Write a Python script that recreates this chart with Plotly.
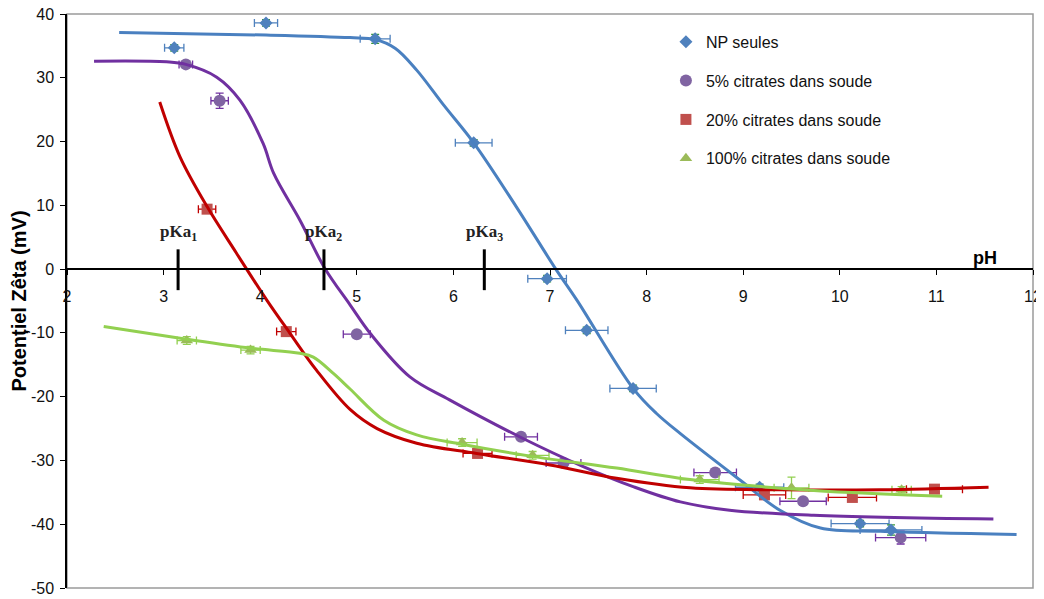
import plotly.graph_objects as go

# ---- axis ticks ----
x_ticks = list(range(2, 13))
y_ticks = [40, 30, 20, 10, 0, -10, -20, -30, -40, -50]
y_tick_labels = ["40", "30", "20", "10", "0", "-10", "-20", "-30", "-40", "-50"]

# ---- measured points ----
np_x = [3.11, 4.06, 5.19, 6.21, 6.97, 7.38, 7.86, 9.17, 10.21, 10.53]
np_y = [34.7, 38.6, 36.1, 19.8, -1.5, -9.6, -18.7, -34.2, -39.9, -40.9]
np_ex = [0.10, 0.12, 0.155, 0.19, 0.20, 0.22, 0.24, 0.25, 0.30, 0.32]
np_ey = [0.5, 0.5, 0.7, 0.5, 0.5, 0.5, 0.5, 0.5, 0.5, 0.8]

c5_x = [3.23, 3.58, 5.00, 6.70, 7.14, 8.71, 9.62, 10.63]
c5_y = [32.1, 26.4, -10.2, -26.3, -30.4, -31.9, -36.4, -42.1]
c5_ex = [0.07, 0.09, 0.14, 0.17, 0.18, 0.22, 0.24, 0.26]
c5_ey = [0.4, 1.2, 0.4, 0.5, 0.5, 0.5, 0.5, 1.0]

c20_x = [3.45, 4.27, 6.25, 9.22, 10.13, 10.98]
c20_y = [9.4, -9.8, -28.9, -35.4, -35.8, -34.5]
c20_ex = [0.09, 0.10, 0.15, 0.22, 0.25, 0.29]
c20_ey = [0.5, 0.5, 0.5, 0.5, 0.6, 0.5]

c100_x = [3.24, 3.90, 6.09, 6.82, 8.55, 9.50, 10.64]
c100_y = [-11.2, -12.7, -27.2, -29.2, -33.0, -34.3, -34.6]
c100_ex = [0.10, 0.10, 0.155, 0.17, 0.20, 0.18, 0.10]
c100_ey = [0.6, 0.6, 0.6, 0.6, 0.6, 1.7, 0.5]

# ---- trend curves ----
np_cx = [2.54, 4.06, 4.93, 5.19, 5.40, 5.62, 5.90, 6.21, 6.65, 7.06, 7.28, 7.86, 8.10, 8.35, 8.97, 9.38, 9.80, 10.42, 11.83]
np_cy = [37.1, 36.7, 36.3, 36.0, 34.6, 31.2, 25.7, 19.8, 9.8, 0.0, -4.9, -18.7, -22.6, -25.8, -33.1, -37.8, -40.6, -41.1, -41.6]

c5_cx = [2.28, 3.03, 3.23, 3.55, 3.79, 4.03, 4.14, 4.41, 4.67, 4.93, 5.14, 5.55, 5.96, 6.70, 7.35, 7.86, 8.35, 8.86, 9.73, 11.59]
c5_cy = [32.6, 32.5, 32.1, 30.1, 26.5, 19.7, 15.0, 7.7, 0.1, -5.6, -10.1, -16.9, -20.5, -26.4, -31.0, -34.1, -36.5, -37.8, -38.6, -39.2]

c20_cx = [2.96, 3.17, 3.45, 3.75, 4.07, 4.31, 4.58, 4.93, 5.21, 5.62, 6.24, 7.00, 7.69, 8.45, 9.38, 10.42, 11.54]
c20_cy = [26.2, 17.6, 9.8, 2.6, -4.9, -10.1, -15.8, -22.0, -25.0, -27.3, -28.9, -30.7, -32.8, -34.3, -34.6, -34.6, -34.2]

c100_cx = [2.38, 3.24, 3.90, 4.41, 4.55, 4.76, 4.93, 5.28, 5.62, 6.10, 6.83, 7.69, 8.45, 9.73, 11.06]
c100_cy = [-9.0, -11.0, -12.4, -13.2, -13.8, -16.4, -18.8, -23.7, -26.0, -27.5, -29.4, -31.2, -33.0, -34.7, -35.6]

pka_x = [3.15, 4.66, 6.32]
pka_labels = ["pKa<sub>1</sub>", "pKa<sub>2</sub>", "pKa<sub>3</sub>"]

names = ["NP seules", "5% citrates dans soude", "20% citrates dans soude", "100% citrates dans soude"]
symbols = ["diamond", "circle", "square", "triangle-up"]
sizes = [10, 12, 11, 11]
mcolors = ["#4F81BD", "#8064A2", "#C0504D", "#9BBB59"]
excolors = ["#4F81BD", "#7030A0", "#C00000", "#92D050"]
eycolors = ["#3a9a3a", "#7030A0", "#C00000", "#92D050"]
lcolors = ["#4A80C0", "#7030A0", "#C00000", "#92D050"]

pts = [(np_x, np_y, np_ex, np_ey), (c5_x, c5_y, c5_ex, c5_ey),
       (c20_x, c20_y, c20_ex, c20_ey), (c100_x, c100_y, c100_ex, c100_ey)]
curves = [(np_cx, np_cy), (c5_cx, c5_cy), (c20_cx, c20_cy), (c100_cx, c100_cy)]

fig = go.Figure()
for i, (x, y, ex, ey) in enumerate(pts):
    fig.add_trace(go.Scatter(
        x=x, y=y, mode="markers", name=names[i], legendgroup=str(i),
        marker=dict(symbol=symbols[i], size=sizes[i], color=mcolors[i], line=dict(width=0)),
        error_x=dict(type="data", array=ex, color=excolors[i], thickness=1.3, width=4),
        error_y=dict(type="data", array=ey, color=eycolors[i], thickness=1.3, width=4),
    ))
for i, (cx, cy) in enumerate(curves):
    fig.add_trace(go.Scatter(
        x=cx, y=cy, mode="lines", showlegend=False, hoverinfo="skip",
        line=dict(color=lcolors[i], width=3, shape="spline", smoothing=1.0),
    ))

# pKa markers
for px, lab in zip(pka_x, pka_labels):
    fig.add_shape(type="line", x0=px, x1=px, y0=3.1, y1=-3.3, xref="x", yref="y",
                  line=dict(color="black", width=3))
    fig.add_annotation(x=px, y=5.6, text="<b>" + lab + "</b>", showarrow=False,
                       xanchor="center", yanchor="middle",
                       font=dict(family="Liberation Serif", size=17, color="#222"))

fig.add_annotation(x=11.5, y=1.8, text="<b>pH</b>", showarrow=False, xanchor="center",
                   yanchor="middle", font=dict(family="Liberation Sans", size=18, color="black"))

# plot area frame
fig.add_shape(type="rect", xref="paper", yref="paper", x0=0, x1=1, y0=0, y1=1,
              line=dict(color="#9a9a9a", width=1.5), layer="below")

fig.update_layout(
    width=1036, height=591,
    margin=dict(l=59, r=11, t=6, b=11, autoexpand=False),
    paper_bgcolor="white", plot_bgcolor="white",
    font=dict(family="Liberation Sans", size=16, color="#111"),
    legend=dict(x=0.620, y=0.981, xanchor="left", yanchor="top",
                font=dict(family="Liberation Sans", size=16, color="#111"),
                bgcolor="rgba(0,0,0,0)", tracegroupgap=15, itemwidth=30),
    xaxis=dict(range=[2, 12], tickvals=x_ticks, showgrid=False, zeroline=False,
               anchor="free", position=50 / 90, showline=True, linecolor="black", linewidth=1.5,
               ticks="outside", ticklen=5, tickcolor="black", ticklabelstandoff=8,
               ticklabeloverflow="allow",
               tickfont=dict(size=16, color="#111"), automargin=False),
    yaxis=dict(range=[-50, 40], tickvals=y_ticks, ticktext=y_tick_labels,
               showgrid=False, zeroline=False,
               showline=True, linecolor="black", linewidth=1.5,
               ticks="outside", ticklen=5, tickcolor="black", ticklabelstandoff=3,
               ticklabeloverflow="allow",
               tickfont=dict(size=16, color="#111"), automargin=False,
               title=dict(text="<b>Potențiel Zêta (mV)</b>", standoff=2,
                          font=dict(size=20, color="black"))),
)

fig.write_html("out.html")
